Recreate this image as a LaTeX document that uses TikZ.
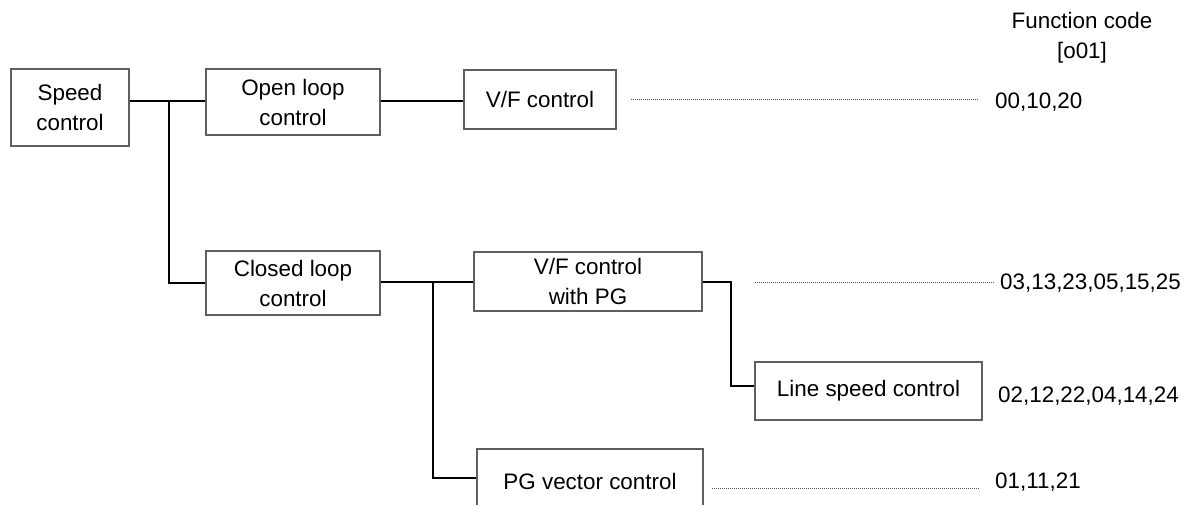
\documentclass[tikz,border=0pt]{standalone}
\usepackage{fontspec}
\setmainfont{Liberation Sans}
\definecolor{boxline}{RGB}{95,95,95}
\definecolor{dotcol}{RGB}{85,85,85}
\begin{document}
\begin{tikzpicture}[x=1pt,y=-1pt,
  every node/.style={font=\fontsize{22.4}{30}\selectfont, inner sep=0pt},
  blk/.style={draw=boxline, line width=1.3pt, align=center, fill=white},
  conn/.style={line width=2pt, black},
  dotline/.style={draw=dotcol, line width=1pt, dash pattern=on 1pt off 1pt},
  code/.style={anchor=base west}]
\useasboundingbox (0,0) rectangle (1197,505);
\begin{scope}
\clip (0,0) rectangle (1197,505);
\node[blk, minimum width=118pt, minimum height=77pt] (speed) at (70,107.5) {Speed\\control};
\node[blk, minimum width=174pt, minimum height=66pt] (open) at (293,102) {Open loop\\control};
\node[blk, minimum width=152pt, minimum height=59pt] (vf) at (540,99.5) {V/F control};
\node[blk, minimum width=174pt, minimum height=64pt] (closed) at (293,283) {Closed loop\\control};
\node[blk, minimum width=228pt, minimum height=59pt] (vfpg) at (588,281.5) {V/F control\\with PG};
\node[blk, minimum width=227pt, minimum height=58pt] (ls) at (868.5,391) {Line speed control};
\node[blk, minimum width=226pt, minimum height=64pt] (pgv) at (590,481) {PG vector control};

\node[align=center] (head) at (1082,38) {Function code\\{}[o01]};
\node[code] (c1) at (995,109) {00,10,20};
\node[code] (c2) at (1000,290) {03,13,23,05,15,25};
\node[code] (c3) at (998,402) {02,12,22,04,14,24};
\node[code] (c4) at (995,488) {01,11,21};

\coordinate (j1) at (169,101);
\coordinate (j2) at (433,282);
\coordinate (j3) at (731,386);
\coordinate (j4) at (433,478);

\draw[conn] (j1 -| speed.east) -- (j1 -| open.west);
\draw[conn] (j1) -- (j1 |- closed.west) -- (closed.west);
\draw[conn] (open.east |- j1) -- (vf.west |- j1);
\draw[conn] (j2 -| closed.east) -- (j2 -| vfpg.west);
\draw[conn] (j2) -- (j4) -- (j4 -| pgv.west);
\draw[conn] (vfpg.east |- j2) -- (j2 -| j3) -- (j3) -- (j3 -| ls.west);

\draw[dotline] ([xshift=14pt]vf.east |- 0,100) -- ([xshift=-17pt]c1.west |- 0,100);
\draw[dotline] ([xshift=52pt]vfpg.east |- 0,282) -- ([xshift=-7pt]c2.west |- 0,282);
\draw[dotline] ([xshift=8pt]pgv.east |- 0,488) -- ([xshift=-16pt]c4.west |- 0,488);
\end{scope}
\end{tikzpicture}
\end{document}
